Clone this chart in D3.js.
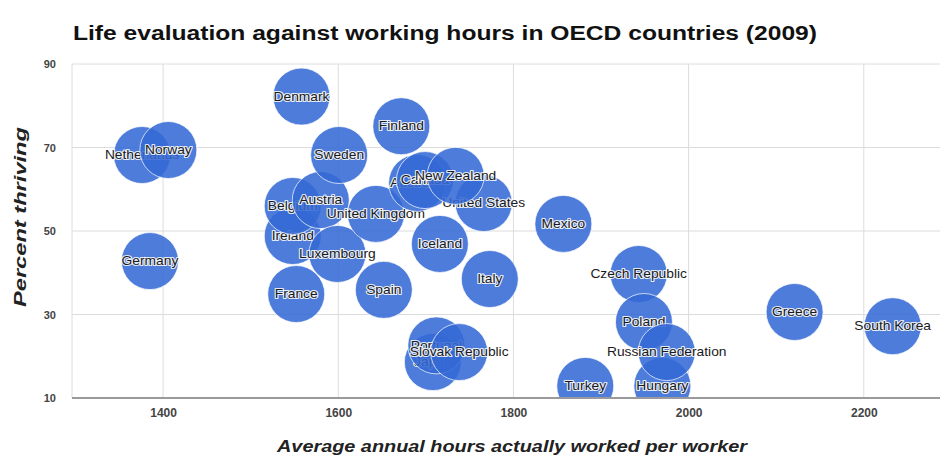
<!DOCTYPE html>
<html>
<head>
<meta charset="utf-8">
<script src="https://cdn.jsdelivr.net/npm/d3@7"></script>
<style>
  html, body { margin: 0; padding: 0; background: #fff; }
  svg { display: block; font-family: "Liberation Sans", Arial, sans-serif; }
</style>
</head>
<body>
<svg id="chart" width="942" height="457"></svg>
<script>
// ---- data ----
const countries = ["Netherlands","Germany","Norway","Ireland","Belgium","France","Denmark","Austria","Luxembourg","Sweden","United Kingdom","Spain","Finland","Australia","Canada","Japan","Iceland","Portugal","United States","New Zealand","Slovak Republic","Italy","Mexico","Turkey","Czech Republic","Poland","Hungary","Russian Federation","Greece","South Korea"];
const hours    = [1376,1385,1406,1548,1548,1552,1558,1580,1599,1601,1643,1652,1672,1690,1699,1708,1716,1712,1766,1734,1738,1773,1857,1882,1943,1949,1970,1975,2121,2233];
const thriving = [68.2,42.8,69.4,48.8,56.0,34.9,82.2,57.4,44.5,68.2,54.1,35.9,75.1,61.5,62.2,18.6,46.9,22.6,56.7,63.2,21.0,38.5,51.7,12.9,39.7,28.2,12.9,21.0,30.6,27.2];
const xTicks = [1400,1600,1800,2000,2200];
const yTicks = [10,30,50,70,90];
const titleText = "Life evaluation against working hours in OECD countries (2009)";
const xTitle = "Average annual hours actually worked per worker";
const yTitle = "Percent thriving";

// ---- layout ----
const pL = 72, pR = 940, pT = 64, pB = 398;
const svg = d3.select("#chart");
const x = d3.scaleLinear().domain([1296, 2287]).range([pL, pR]);
const y = d3.scaleLinear().domain([10, 90]).range([pB, pT]);
const R = 28.5;

svg.append("defs").append("clipPath").attr("id","plotclip")
  .append("rect").attr("x", pL).attr("y", pT).attr("width", pR-pL).attr("height", pB-pT);

// title
svg.append("text")
  .attr("x", 73).attr("y", 40)
  .attr("font-size", 20).attr("font-weight", "bold").attr("fill", "#111")
  .attr("textLength", 744).attr("lengthAdjust", "spacingAndGlyphs")
  .text(titleText);

// gridlines
const grid = svg.append("g");
grid.selectAll("line.h").data(yTicks.filter(t => t !== 10)).join("line")
  .attr("x1", pL).attr("x2", pR)
  .attr("y1", d => y(d)).attr("y2", d => y(d))
  .attr("stroke", "#dcdcdc").attr("stroke-width", 1);
grid.selectAll("line.v").data(xTicks).join("line")
  .attr("y1", pT).attr("y2", pB)
  .attr("x1", d => x(d)).attr("x2", d => x(d))
  .attr("stroke", "#dcdcdc").attr("stroke-width", 1);
grid.append("line").attr("x1", pL).attr("x2", pL).attr("y1", pT).attr("y2", pB)
  .attr("stroke", "#dcdcdc");

// axes (text only, via d3 axis)
const xAxis = svg.append("g").attr("transform", `translate(0,${pB + 5})`)
  .call(d3.axisBottom(x).tickValues(xTicks).tickSize(0).tickFormat(d3.format("d")));
xAxis.select(".domain").remove();
xAxis.selectAll("text").attr("font-size", 12).attr("font-weight", "bold").attr("fill", "#444")
  .attr("font-family", "Liberation Sans, Arial, sans-serif").attr("dy", "0.9em");

const yAxis = svg.append("g").attr("transform", `translate(56,0)`)
  .call(d3.axisLeft(y).tickValues(yTicks).tickSize(0).tickFormat(d3.format("d")));
yAxis.select(".domain").remove();
yAxis.selectAll("text").attr("font-size", 11).attr("font-weight", "bold").attr("fill", "#444")
  .attr("font-family", "Liberation Sans, Arial, sans-serif").attr("x", 0);

// axis titles
svg.append("text")
  .attr("x", 512).attr("y", 452).attr("text-anchor", "middle")
  .attr("font-size", 16).attr("font-weight", "bold").attr("font-style", "italic").attr("fill", "#222")
  .attr("textLength", 470).attr("lengthAdjust", "spacingAndGlyphs")
  .text(xTitle);
svg.append("text")
  .attr("transform", "translate(26,217) rotate(-90)").attr("text-anchor", "middle")
  .attr("font-size", 16).attr("font-weight", "bold").attr("font-style", "italic").attr("fill", "#222")
  .attr("textLength", 180).attr("lengthAdjust", "spacingAndGlyphs")
  .text(yTitle);

// bubbles with labels, drawn in data order
const data = countries.map((c, i) => ({ name: c, h: hours[i], t: thriving[i] }));
const plot = svg.append("g").attr("clip-path", "url(#plotclip)");
data.forEach(d => {
  const g = plot.append("g");
  g.append("circle")
    .attr("cx", x(d.h)).attr("cy", y(d.t)).attr("r", R)
    .attr("fill", "#3468d4").attr("fill-opacity", 0.87)
    .attr("stroke", "#ffffff").attr("stroke-opacity", 0.7).attr("stroke-width", 1);
  g.append("text")
    .attr("transform", `translate(${x(d.h)},${y(d.t)}) scale(1.15,1)`)
    .attr("text-anchor", "middle").attr("dy", "0.35em")
    .attr("font-size", 12).attr("fill", "#1a1a1a")
    .attr("stroke", "#ffffff").attr("stroke-width", 2.2).attr("stroke-linejoin", "round")
    .attr("stroke-opacity", 0.85).attr("paint-order", "stroke")
    .text(d.name);
});

// baseline
svg.append("line").attr("x1", pL).attr("x2", pR).attr("y1", pB).attr("y2", pB)
  .attr("stroke", "#9a9a9a").attr("stroke-width", 2);
</script>
</body>
</html>
